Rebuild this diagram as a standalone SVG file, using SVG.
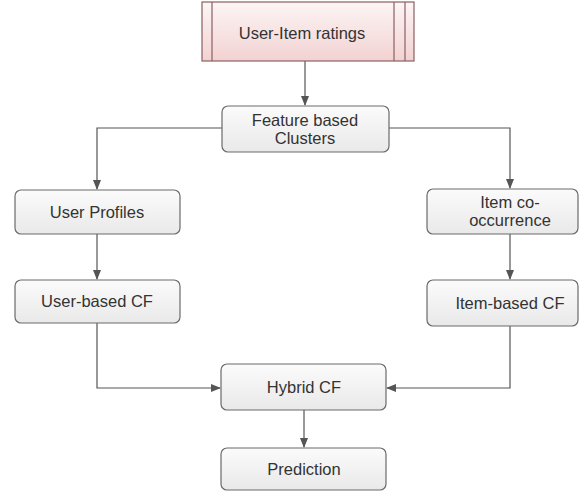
<svg xmlns="http://www.w3.org/2000/svg" width="581" height="492" viewBox="0 0 581 492">
<defs>
<linearGradient id="g" x1="0" y1="0" x2="0" y2="1"><stop offset="0" stop-color="#fbfbfb"/><stop offset="1" stop-color="#e9e9e9"/></linearGradient>
<linearGradient id="p" x1="0" y1="0" x2="0" y2="1"><stop offset="0" stop-color="#fdf5f5"/><stop offset="1" stop-color="#f2d2d2"/></linearGradient>
<marker id="a" markerWidth="10" markerHeight="10" refX="9" refY="5" orient="auto" markerUnits="userSpaceOnUse"><path d="M0,1 L10,5 L0,9 Z" fill="#555"/></marker>
</defs>
<style>
.n{fill:url(#g);stroke:#6a6a6a;stroke-width:1.2}
.t{font-family:"Liberation Sans",Arial,sans-serif;font-size:16.5px;fill:#333;text-anchor:middle}
.c{fill:none;stroke:#555;stroke-width:1.2;marker-end:url(#a)}
</style>
<rect width="581" height="492" fill="#fff"/>
<g id="connectors">
<path class="c" d="M305,61 V105"/>
<path class="c" d="M222,128 H97 V189"/>
<path class="c" d="M389,128 H510 V188"/>
<path class="c" d="M97,234 V279"/>
<path class="c" d="M510,234 V279"/>
<path class="c" d="M97,323 V388 H220"/>
<path class="c" d="M510,326 V388 H387"/>
<path class="c" d="M304,410 V447"/>
</g>
<g id="ratings">
<rect x="202" y="2" width="212" height="59" fill="url(#p)" stroke="#8a6060" stroke-width="1.2"/>
<line x1="212" y1="2" x2="212" y2="61" stroke="#8a6060" stroke-width="1.2"/>
<line x1="394" y1="2" x2="394" y2="61" stroke="#8a6060" stroke-width="1.2"/>
<line x1="405" y1="2" x2="405" y2="61" stroke="#8a6060" stroke-width="1.2"/>
<text class="t" x="302" y="39">User-Item ratings</text>
</g>
<g id="clusters">
<rect class="n" x="222" y="106" width="167" height="46" rx="6"/>
<text class="t" x="305" y="126">Feature based</text>
<text class="t" x="305" y="144">Clusters</text>
</g>
<g id="userprofiles">
<rect class="n" x="15" y="190" width="165" height="44" rx="6"/>
<text class="t" x="97" y="218">User Profiles</text>
</g>
<g id="itemcooc">
<rect class="n" x="427" y="189" width="151" height="45" rx="6"/>
<text class="t" x="510" y="208">Item co-</text>
<text class="t" x="510" y="226">occurrence</text>
</g>
<g id="usercf">
<rect class="n" x="15" y="280" width="165" height="43" rx="6"/>
<text class="t" x="97" y="307">User-based CF</text>
</g>
<g id="itemcf">
<rect class="n" x="427" y="280" width="151" height="46" rx="6"/>
<text class="t" x="510" y="309">Item-based CF</text>
</g>
<g id="hybrid">
<rect class="n" x="221" y="364" width="165" height="46" rx="6"/>
<text class="t" x="304" y="393">Hybrid CF</text>
</g>
<g id="prediction">
<rect class="n" x="221" y="448" width="165" height="42" rx="6"/>
<text class="t" x="304" y="475">Prediction</text>
</g>
</svg>
